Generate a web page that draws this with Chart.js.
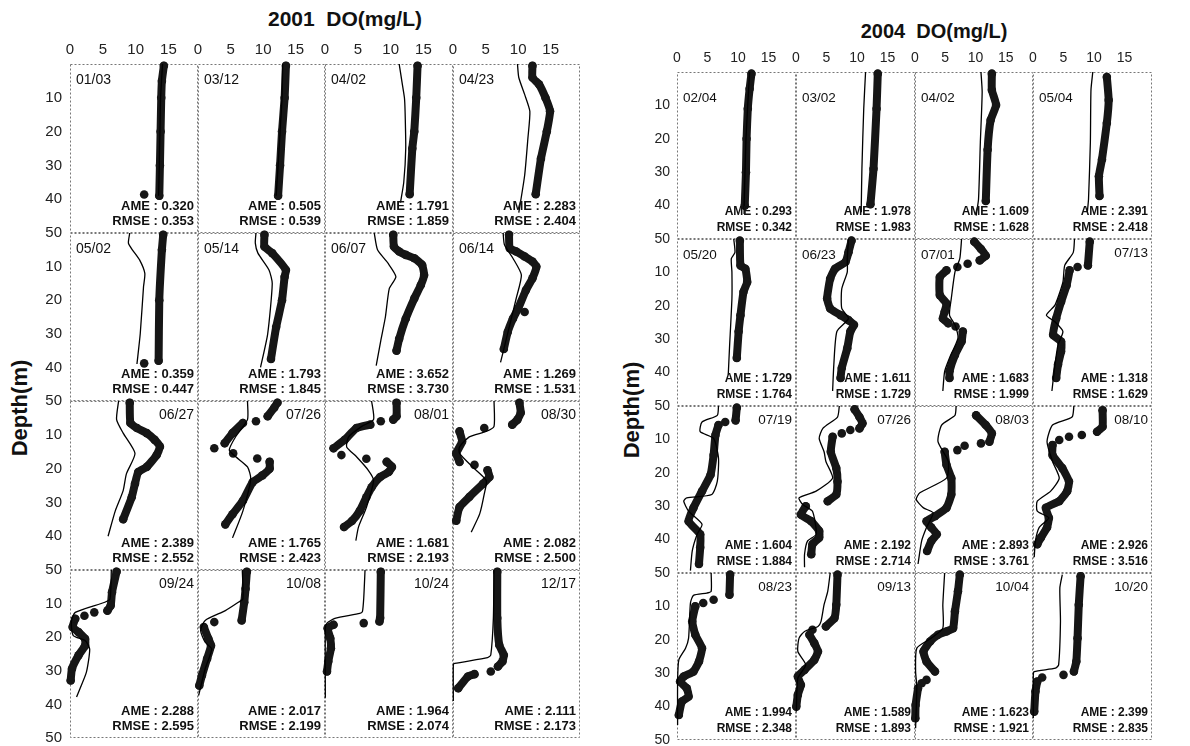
<!DOCTYPE html>
<html>
<head>
<meta charset="utf-8">
<script src="https://cdn.jsdelivr.net/npm/chart.js@4.4.1/dist/chart.umd.min.js"></script>
<style>
  body { margin: 0; background: #fff; font-family: Arial, "Liberation Sans", sans-serif; }
  #page { position: relative; width: 1190px; height: 746px; overflow: hidden; background: #fff; }
  #page canvas { position: absolute; }
  .title { position: absolute; font-weight: bold; color: #111; white-space: pre; transform: translate(-50%, -50%); }
  .ylab { position: absolute; font-weight: bold; font-size: 22px; color: #111; white-space: nowrap; transform: translate(-50%, -50%) rotate(-90deg); }
</style>
</head>
<body>
<div id="page">
  <div class="title" style="left:345px; top:19px; font-size:21px;">2001  DO(mg/L)</div>
  <div class="title" style="left:934px; top:31px; font-size:20px;">2004  DO(mg/L)</div>
  <div class="ylab" style="left:20px; top:408px;">Depth(m)</div>
  <div class="ylab" style="left:632px; top:410px;">Depth(m)</div>
</div>
<script>
// ---- axis ticks ----
const xTicks = [0, 5, 10, 15];
const depthTicks = [10, 20, 30, 40, 50];
const X_MAX = 19.5;

// ---- 2001 ----
const dates2001 = ['01/03', '03/12', '04/02', '04/23', '05/02', '05/14', '06/07', '06/14',
                   '06/27', '07/26', '08/01', '08/30', '09/24', '10/08', '10/24', '12/17'];
const ame2001  = ['0.320', '0.505', '1.791', '2.283', '0.359', '1.793', '3.652', '1.269',
                  '2.389', '1.765', '1.681', '2.082', '2.288', '2.017', '1.964', '2.111'];
const rmse2001 = ['0.353', '0.539', '1.859', '2.404', '0.447', '1.845', '3.730', '1.531',
                  '2.552', '2.423', '2.193', '2.500', '2.595', '2.199', '2.074', '2.173'];

// observed / simulated profiles: [depth(m), DO(mg/L)], null = gap
const obs01_0103 = [[0.5,14.3],[5,14.0],[10,13.9],[20,13.8],[30,13.7],[39,13.6],null,[38.6,11.3]];
const sim01_0103 = [[0,14.1],[10,13.8],[20,13.7],[30,13.6],[39,13.5]];
const obs01_0312 = [[0.5,13.5],[10,13.3],[20,12.9],[30,12.6],[39,12.3]];
const sim01_0312 = [[0,13.0],[10,12.9],[20,12.6],[30,12.3],[39,12.0]];
const obs01_0402 = [[0.5,14.1],[10,13.9],[20,13.6],[25,13.3],[38.5,12.9]];
const sim01_0402 = [[0,11.3],[5,11.7],[10,12.1],[14,12.2],[25,12.3],[35,12.0],[41,11.5]];
const obs01_0423 = [[0.5,12.2],[4,12.2],[6,13.2],[10,14.2],[14,14.9],[20,14.4],[28,13.5],[38.5,12.7]];
const sim01_0423 = [[0,9.9],[4,10.1],[9,11.0],[14,11.8],[22,11.5],[33,11.0],[44,10.1]];
const obs01_0502 = [[0.5,14.2],[5,14.0],[20,13.6],[38,13.5],null,[38.8,11.3]];
const sim01_0502 = [[0,9.1],[3,8.9],[5,9.5],[8,10.6],[12,11.4],[16,11.2],[30,10.7],[39,10.2]];
const obs01_0514 = [[0.5,10.2],[4,10.2],[6,11.4],[11,13.5],[13,13.3],[20,12.9],[28,12.0],[37.5,11.2]];
const sim01_0514 = [[0,8.9],[3,8.8],[6,9.2],[11,10.9],[15,11.4],[30,10.7],[40,9.6]];
const obs01_0607 = [[0.5,10.4],[4,10.5],[5.5,11.3],[6.5,12.3],[7.5,13.6],[9.5,14.8],[12.5,15.1],[15.5,14.6],[19.5,13.6],[25.5,12.3],[31.5,11.3],[35,10.9]];
const sim01_0607 = [[0,7.5],[5,8.0],[9,9.6],[13,10.8],[16.5,9.8],[25,9.2],[32,8.5],[39.5,7.8]];
const obs01_0614 = [[0.5,8.6],[4.5,8.7],[5.5,9.7],[7,11.0],[8.5,12.2],[10,12.8],[13.5,12.2],[17,11.2],[22.5,10.0],[25.5,9.2],[29.5,8.4],[34.5,7.8],null,[23.5,11.0]];
const sim01_0614 = [[0,7.7],[3.5,7.9],[7.5,9.2],[12.5,10.5],[19.5,9.7],[27.5,8.7],[38.5,7.3]];
const obs01_0627 = [[0.5,9.1],[6.5,9.2],[8,10.2],[9.5,11.7],[11.5,12.9],[13.5,13.7],[16,13.2],[19.5,11.7],[21,10.4],[24.5,9.9],[28.5,9.4],[35,8.1]];
const sim01_0627 = [[0,7.4],[5.5,7.1],[9.5,8.1],[15.5,9.9],[21.5,8.6],[26.5,8.1],[32.5,6.9],[40,5.8]];
const obs01_0726 = [[0.5,12.2],[2,11.7],[4.5,10.7],null,[6,8.9],null,[6.5,6.9],[9.5,5.3],[12.5,4.1],null,[14,2.5],null,[15.5,5.4],null,[17,9.1],null,[18,11.0],[20,11.0],[22,9.9],[24,8.4],[29.5,6.9],[33.5,5.3],[36.5,4.2]];
const sim01_0726 = [[0,7.6],[5.5,7.6],[10.5,5.8],[14.5,4.8],[16.5,5.8],[19.5,7.6],[23,8.1],[32.5,6.9],[40.5,5.3]];
const obs01_0801 = [[0.5,10.9],[4.5,10.9],[5.5,10.4],null,[6,8.5],null,[7,6.9],[8,4.8],[11.5,3.0],[14,1.3],null,[16,2.5],null,[17.1,6.3],null,[18,9.4],[19.5,10.2],[21,9.7],[22.5,8.4],[25.5,7.1],[28.5,6.3],[32.5,5.3],[35.5,4.1],[37.3,2.9]];
const sim01_0801 = [[0,7.1],[5.5,7.4],[7.5,5.6],[10.6,3.6],[13.6,3.3],[16.5,4.8],[20.5,6.6],[23.5,7.4],[31.5,6.3],[37.3,5.1],[41.3,4.7]];
const obs01_0830 = [[0.5,10.2],[3.5,10.4],[5.5,9.9],[7,9.1],null,[8,4.8],null,[9,1.0],[12,1.4],[15.5,0.5],[18,1.0],null,[18.9,3.3],null,[20.5,5.3],[22.5,5.6],[24.5,4.6],[28.4,2.5],[31.4,1.0],[35.4,0.5]];
const sim01_0830 = [[0,6.3],[7.5,6.3],[9,5.1],[10.6,2.5],[13.6,1.0],[15.5,1.0],[19.5,3.0],[23.5,5.1],[27.5,4.8],[33.4,4.1],[38.8,2.8]];
const obs01_0924 = [[0.5,7.1],[6.6,6.4],[10.6,6.2],[12.1,5.7],null,[12.6,3.7],null,[13.6,2.2],null,[14.5,0.8],[17,0.4],[18.5,1.3],[20.5,2.3],[22.5,2.3],[25.4,1.3],[29.4,0.3],[32.9,0.1]];
const sim01_0924 = [[0,6.3],[8.6,6.1],[9.6,5.3],[12.6,0.8],[15.5,0.2],[19.5,0.5],[21,2.3],[23.5,3.0],[30.4,2.5],[35.4,1.5],[37.8,1.0]];
const obs01_1008 = [[0.5,7.5],[5.6,7.3],[9.6,7.1],[15,6.7],null,[15.5,2.5],null,[17,0.9],[20.5,1.6],[22.5,2.0],[26.4,1.4],[31.4,0.6],[34.4,0.2]];
const sim01_1008 = [[0,6.8],[8.6,6.9],[9.6,6.2],[12.1,4.2],[15,1.1],[18,0.4],[21.5,1.1],[23.5,2.1],[29.4,1.1],[37.3,0.1]];
const obs01_1024 = [[0.5,8.5],[14.3,8.4],[15.3,8.3],null,[15.8,5.9],null,[16.3,1.3],[17.3,0.4],[20.3,0.8],[23.3,0.9],[27.2,0.5],[30.2,0.3]];
const sim01_1024 = [[0,6.1],[8.4,5.9],[12.4,5.7],[12.9,5.3],[14.4,1.5],[15.8,0.3],[17.3,0.05],[38,0.05]];
const obs01_1217 = [[0.5,6.8],[14.3,6.8],[22.3,7.1],[25.3,7.8],[27.2,7.6],[28.7,6.9],null,[30.2,5.8],null,[31,3.3],[31.7,2.3],[35.2,0.8]];
const sim01_1217 = [[0,6.3],[14.3,6.2],[25.3,5.8],[26.1,5.3],[27.8,0.25],[28.3,0.05],[39,0.05]];

// ---- 2004 ----
const dates2004 = ['02/04', '03/02', '04/02', '05/04', '05/20', '06/23', '07/01', '07/13',
                   '07/19', '07/26', '08/03', '08/10', '08/23', '09/13', '10/04', '10/20'];
const ame2004  = ['0.293', '1.978', '1.609', '2.391', '1.729', '1.611', '1.683', '1.318',
                  '1.604', '2.192', '2.893', '2.926', '1.994', '1.589', '1.623', '2.399'];
const rmse2004 = ['0.342', '1.983', '1.628', '2.418', '1.764', '1.729', '1.999', '1.629',
                  '1.884', '2.714', '3.761', '3.516', '2.348', '1.893', '1.921', '2.835'];

const obs04_0204 = [[0.5,12.2],[5,11.9],[11,11.6],[20,11.4],[30,11.3],[40,11.1]];
const sim04_0204 = [[0,11.9],[20,11.3],[40,11.0],[42.5,11.0]];
const obs04_0302 = [[0.5,13.4],[11,13.2],[29,12.7],[39.6,12.2]];
const sim04_0302 = [[0,11.4],[11,11.1],[29,10.8],[40,10.7],[42,10.7]];
const obs04_0402 = [[0.5,12.7],[5.4,12.7],[9.9,13.4],[14.4,12.5],[23.3,12.0],[38.6,11.7]];
const sim04_0402 = [[0,10.9],[6,11.1],[21,10.8],[38,10.5],[43,10.1]];
const obs04_0504 = [[1.5,12.1],[8.4,12.4],[15.3,12.1],[26.2,11.3],[31.2,10.8],[37.1,10.9]];
const sim04_0504 = [[0,9.8],[5.4,9.5],[21,9.4],[38,9.1],[42,8.9]];
const obs04_0520 = [[0.5,10.3],[7.9,10.4],[8.9,11.2],[12.9,11.5],[15.8,10.9],[22.8,10.4],[27.7,10.1],[35.6,9.8]];
const sim04_0520 = [[0,9.3],[4,9.5],[5.9,8.9],[9.9,9.0],[17.8,9.0],[32.7,8.6],[40.6,8.4]];
const obs04_0623 = [[0.5,9.1],[4,8.6],[6.9,8.1],[8.9,6.4],[11.9,5.6],[17.8,5.1],[20.8,5.6],[22.8,7.3],[24.3,8.6],[25.7,9.5],[27.7,8.9],[32.7,8.4],[38.6,7.5],[41.6,7.3]];
const sim04_0623 = [[0,8.6],[5.9,8.4],[9.9,8.4],[14.9,7.5],[20.8,7.5],[23.8,8.6],[27.7,6.7],[37.6,6.2],[45.5,6.0]];
const obs04_0701 = [[0.8,9.8],[3,10.9],[5,11.7],[6.4,10.7],null,[7.4,8.7],null,[8.4,7.0],null,[9.4,5.2],[11.4,4.1],[16.8,4.1],[19.3,5.2],[21.8,4.9],[23.8,4.6],[25.2,5.5],null,[26.2,6.7],null,[27.7,7.9],[30.7,7.7],[34.7,6.6],[39.6,5.7],[41.6,5.7]];
const sim04_0701 = [[0,7.7],[5.9,7.4],[9.9,6.6],[17.8,6.0],[22.8,5.7],[25.7,6.6],[29.7,7.1],[35.6,5.7],[39.6,4.9],[45.5,4.6]];
const obs04_0713 = [[0.8,9.3],[7.9,9.0],null,[8.4,7.3],null,[9.4,6.0],[13.9,5.5],[18.8,4.6],[23.8,3.8],[28.7,3.3],[30.7,4.6],[33.7,4.6],[37.6,4.1],[41.6,3.8]];
const sim04_0713 = [[0,6.8],[4,6.6],[7.9,5.2],[12.9,4.9],[19.8,3.6],[22.8,2.2],[24.8,3.6],[27.7,4.9],[31.7,4.1],[37.6,3.6],[45.5,3.1]];
const obs04_0719 = [[0.5,9.8],[4.3,9.6],null,[4.8,7.9],null,[5.7,6.8],[8.7,6.3],[14.7,6.0],[20.6,5.5],[25.5,4.1],[30.5,2.7],[34.5,1.9],[38.4,3.8],[42.4,3.8],[47.3,3.6]];
const sim04_0719 = [[0,6.8],[2.8,6.6],[4.8,4.1],[7.7,3.8],[9.7,6.0],[15.6,6.8],[22.6,6.6],[26.5,5.7],[27.5,1.6],[28.5,1.1],[31.5,1.9],[35.4,4.1],[38.4,3.3],[43.4,2.5],[49.3,2.2]];
const obs04_0726 = [[1,9.6],[3.3,10.4],[5.2,10.9],[6.7,10.4],null,[7.2,8.9],null,[8.2,7.5],null,[9.2,6.0],[13.7,5.7],[18.6,6.6],[22.6,6.8],[26.5,6.6],[28.5,5.2],null,[30,1.6],[32.5,0.8],[34.5,2.5],[37.4,3.8],[39.4,3.8],[41.4,2.7],[44.4,2.5]];
const sim04_0726 = [[0,7.1],[3.3,6.8],[6.7,4.4],[9.7,3.8],[13.7,4.6],[16.6,4.9],[21.6,6.0],[25.5,3.3],[27.5,0.5],[29.5,1.1],[31.5,2.7],[38.4,3.3],[40.4,1.9],[44.4,1.4],[48.3,1.4]];
const obs04_0803 = [[2.8,10.1],[5.7,11.7],[8.2,12.7],[10.7,12.3],null,[11.2,10.9],null,[11.9,8.2],null,[13.2,7.0],null,[13.7,4.9],[17.6,5.2],[21.6,6.0],[26.5,6.0],[30.5,5.2],[33,3.3],[34.5,1.9],[36.4,2.7],[38.4,3.6],[40.4,2.7],[43.4,2.0]];
const sim04_0803 = [[0,6.8],[2.8,6.6],[5.7,4.4],[10.7,3.8],[16.6,5.5],[21.6,5.2],[26,0.8],[28,0.2],[30.5,1.4],[32,3.0],[36.4,1.9],[40.4,1.1],[47.3,0.5]];
const obs04_0810 = [[1.3,11.4],[6.2,11.4],[7.7,10.5],null,[8.7,8.0],null,[9.2,5.9],null,[10.2,4.3],null,[11.7,3.2],[14.7,3.2],[18.6,4.8],[22.6,5.9],[25.5,5.6],[28.5,4.3],[30.5,2.1],[33.5,2.6],[36.4,2.3],[39.4,1.3],[41.4,0.7]];
const sim04_0810 = [[0,6.7],[3.3,6.4],[5.7,3.2],[10.7,2.3],[16.6,3.2],[21.6,4.3],[25.5,2.9],[28.5,0.7],[31.5,0.7],[33.5,2.6],[36.4,1.0],[40.4,0.4],[45.3,0.2]];
const obs04_0823 = [[0.5,8.7],[6.5,8.6],null,[8,6.0],null,[9,4.3],null,[10,3.0],[14.5,2.5],[18.5,3.0],[22.5,4.1],[26.5,3.6],[29.5,2.7],[31,1.1],[32.5,0.5],[34.5,1.6],[37,1.9],[38.5,0.8],[42.5,0.3]];
const sim04_0823 = [[0,5.6],[5.5,5.6],[6,4.9],[6.7,2.7],[9,2.2],[19.5,1.9],[22.5,1.4],[26,0.3],[32.5,0.1],[45.5,0.1]];
const obs04_0913 = [[0.5,6.8],[9.5,6.6],[13.5,6.3],[16,4.9],null,[17,2.7],null,[18.5,2.2],[21,3.0],[23.5,3.6],[26,3.0],[29,1.4],[31,0.3],[33.5,0.8],[36.5,0.3],[40,0.05]];
const sim04_0913 = [[0,5.6],[5.5,5.2],[9.5,4.6],[14.5,4.1],[16,3.6],[17.5,1.4],[19.5,0.5],[23.5,0.3],[27.5,1.6],[31.5,0.3],[41.5,0.05]];
const obs04_1004 = [[0.5,7.4],[5.5,7.1],[11.5,6.6],[16.5,6.3],[17.5,5.2],[18.5,3.8],[20.5,2.5],[23.5,1.4],[26.5,1.9],[29.5,3.3],null,[32,1.9],null,[33,1.1],null,[34.5,0.5],[39.5,0.1],[43.5,0.05]];
const sim04_1004 = [[0,4.9],[9.5,4.6],[16.5,4.6],[19.5,2.7],[22.5,0.3],[29.5,0.1],[34,0.3],[46.5,0.1]];
const obs04_1020 = [[1,7.8],[9.5,7.5],[19.5,7.3],[26.5,7.1],[29.5,6.7],null,[30.5,5.0],null,[31.3,1.5],null,[32.5,0.7],[35.5,0.4],[41.5,0.2]];
const sim04_1020 = [[0.5,4.8],[4.5,4.4],[14.5,4.5],[27.5,4.2],[28.5,3.7],[29.5,0.2],[30.5,0.05],[43.5,0.05]];

const obs2001 = [obs01_0103, obs01_0312, obs01_0402, obs01_0423, obs01_0502, obs01_0514, obs01_0607, obs01_0614,
                 obs01_0627, obs01_0726, obs01_0801, obs01_0830, obs01_0924, obs01_1008, obs01_1024, obs01_1217];
const sim2001 = [sim01_0103, sim01_0312, sim01_0402, sim01_0423, sim01_0502, sim01_0514, sim01_0607, sim01_0614,
                 sim01_0627, sim01_0726, sim01_0801, sim01_0830, sim01_0924, sim01_1008, sim01_1024, sim01_1217];
const obs2004 = [obs04_0204, obs04_0302, obs04_0402, obs04_0504, obs04_0520, obs04_0623, obs04_0701, obs04_0713,
                 obs04_0719, obs04_0726, obs04_0803, obs04_0810, obs04_0823, obs04_0913, obs04_1004, obs04_1020];
const sim2004 = [sim04_0204, sim04_0302, sim04_0402, sim04_0504, sim04_0520, sim04_0623, sim04_0701, sim04_0713,
                 sim04_0719, sim04_0726, sim04_0803, sim04_0810, sim04_0823, sim04_0913, sim04_1004, sim04_1020];

// panel layout (pixels)
const layout2001 = { x0: 70, y0: 64, cw: 127.5, rh: 168.5, tickFont: 15, tickPad: 8, dateFont: 14, statFont: 13, firstRowDateDy: 16 };
const layout2004 = { x0: 677, y0: 72, cw: 118.75, rh: 167, tickFont: 14, tickPad: 7, dateFont: 13.5, statFont: 12, firstRowDateDy: 26 };

// draws the dotted box, date label and AME / RMSE text
const panelDecor = {
  id: 'panelDecor',
  beforeDatasetsDraw(chart) {
    const a = chart.chartArea, ctx = chart.ctx;
    ctx.save();
    ctx.strokeStyle = '#777';
    ctx.lineWidth = 1;
    ctx.setLineDash([2, 2]);
    ctx.strokeRect(a.left + 0.5, a.top + 0.5, a.right - a.left - 1, a.bottom - a.top - 1);
    ctx.restore();
  },
  afterDatasetsDraw(chart, args, opts) {
    const a = chart.chartArea, ctx = chart.ctx;
    ctx.save();
    ctx.fillStyle = '#111';
    ctx.textBaseline = 'middle';
    ctx.font = opts.dateFont + 'px Arial, "Liberation Sans", sans-serif';
    if (opts.dateRight) {
      ctx.textAlign = 'right';
      ctx.fillText(opts.date, a.right - 4, a.top + 14);
    } else {
      ctx.textAlign = 'left';
      ctx.fillText(opts.date, a.left + 6, a.top + opts.dateDy);
    }
    ctx.textAlign = 'right';
    ctx.font = 'bold ' + opts.statFont + 'px Arial, "Liberation Sans", sans-serif';
    ctx.fillText('AME : ' + opts.ame, a.right - 4, a.bottom - 27);
    ctx.fillText('RMSE : ' + opts.rmse, a.right - 4, a.bottom - 11.5);
    ctx.restore();
  }
};

function toPoints(pairs) {
  return pairs.map(p => p ? { x: p[1], y: p[0] } : { x: null, y: null });
}

function makeChart(lay, i, obs, sim, date, ame, rmse, dateRight) {
  const col = i % 4, row = Math.floor(i / 4);
  const left = Math.round(lay.x0 + col * lay.cw);
  const right = Math.round(lay.x0 + (col + 1) * lay.cw);
  const top = Math.round(lay.y0 + row * lay.rh);
  const bottom = Math.round(lay.y0 + (row + 1) * lay.rh);
  const pad = 10;
  const axL = col === 0 ? 40 : 0;
  const axT = row === 0 ? 24 : 0;

  const canvas = document.createElement('canvas');
  canvas.width = (right - left) + 2 * pad + axL;
  canvas.height = (bottom - top) + 2 * pad + axT;
  canvas.style.left = (left - pad - axL) + 'px';
  canvas.style.top = (top - pad - axT) + 'px';
  document.getElementById('page').appendChild(canvas);

  new Chart(canvas, {
    type: 'scatter',
    data: {
      datasets: [{
        data: toPoints(sim),
        showLine: true,
        borderColor: '#000',
        borderWidth: 1.3,
        pointRadius: 0,
        tension: 0.2,
        clip: false
      }, {
        data: toPoints(obs),
        showLine: true,
        borderColor: '#161616',
        backgroundColor: '#161616',
        borderWidth: 8,
        pointRadius: 4.3,
        pointBorderWidth: 0,
        borderCapStyle: 'round',
        borderJoinStyle: 'round',
        tension: 0.15,
        clip: false
      }]
    },
    options: {
      responsive: false,
      animation: false,
      events: [],
      layout: { padding: { left: pad, right: pad, top: pad, bottom: pad } },
      plugins: {
        legend: { display: false },
        tooltip: { enabled: false },
        panelDecor: { date, ame, rmse, dateRight, dateFont: lay.dateFont, statFont: lay.statFont,
                      dateDy: row === 0 ? lay.firstRowDateDy : 16 }
      },
      scales: {
        x: {
          type: 'linear', position: 'top', min: 0, max: X_MAX, display: row === 0,
          grid: { display: false, drawTicks: false },
          border: { display: false },
          ticks: { padding: 5, color: '#222', font: { size: lay.tickFont, family: 'Arial, "Liberation Sans", sans-serif' }, maxRotation: 0, autoSkip: false },
          afterBuildTicks: s => { s.ticks = xTicks.map(v => ({ value: v })); },
          afterFit: s => { s.height = axT; s.paddingLeft = 0; s.paddingRight = 0; }
        },
        y: {
          type: 'linear', position: 'left', reverse: true, min: 0, max: 50, display: col === 0,
          grid: { display: false, drawTicks: false },
          border: { display: false },
          ticks: { padding: lay.tickPad, color: '#222', font: { size: lay.tickFont, family: 'Arial, "Liberation Sans", sans-serif' }, autoSkip: false },
          afterBuildTicks: s => { s.ticks = depthTicks.map(v => ({ value: v })); },
          afterFit: s => { s.width = axL; s.paddingTop = 0; s.paddingBottom = 0; }
        }
      }
    },
    plugins: [panelDecor]
  });
}

// 1. 2001 panel
dates2001.forEach((d, i) => makeChart(layout2001, i, obs2001[i], sim2001[i], d, ame2001[i], rmse2001[i], i >= 8));

// 2. 2004 panel
dates2004.forEach((d, i) => makeChart(layout2004, i, obs2004[i], sim2004[i], d, ame2004[i], rmse2004[i], i >= 7));
</script>
</body>
</html>
